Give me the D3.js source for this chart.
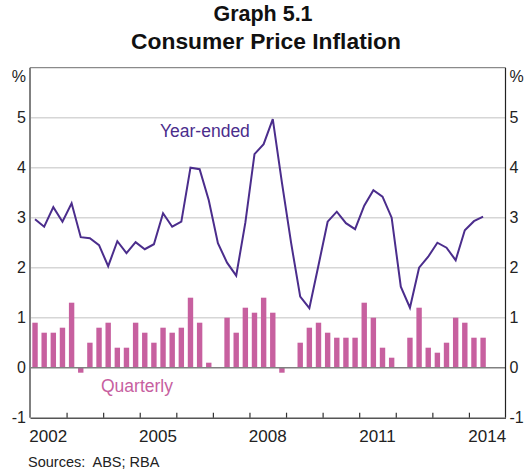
<!DOCTYPE html>
<html>
<head>
<meta charset="utf-8">
<script src="https://cdn.jsdelivr.net/npm/d3@7"></script>
<style>
  body { margin: 0; background: #fff; }
  text { font-family: "Liberation Sans", Arial, sans-serif; }
</style>
</head>
<body>
<svg id="chart"></svg>
<script>
// quarterly CPI, 2002 Q1 to 2014 Q2
const startYear = 2002;
const yearEnded = [
  2.97, 2.82, 3.21, 2.92,
  3.29, 2.61, 2.59, 2.45,
  2.03, 2.53, 2.29, 2.51,
  2.37, 2.47, 3.09, 2.82,
  2.92, 4.0, 3.97, 3.35,
  2.49, 2.1, 1.84, 2.9,
  4.27, 4.47, 4.97, 3.7,
  2.5, 1.42, 1.19, 2.05,
  2.92, 3.12, 2.89, 2.77,
  3.24, 3.55, 3.42, 3.0,
  1.62, 1.2, 2.0, 2.22,
  2.5, 2.4, 2.15, 2.75,
  2.93, 3.02
];
const quarterly = [
  0.9, 0.7, 0.7, 0.8,
  1.3, -0.1, 0.5, 0.8,
  0.9, 0.4, 0.4, 0.9,
  0.7, 0.5, 0.8, 0.7,
  0.8, 1.4, 0.9, 0.1,
  0.0, 1.0, 0.7, 1.2,
  1.1, 1.4, 1.1, -0.1,
  0.0, 0.5, 0.8, 0.9,
  0.7, 0.6, 0.6, 0.6,
  1.3, 1.0, 0.4, 0.2,
  0.0, 0.6, 1.2, 0.4,
  0.3, 0.5, 1.0, 0.9,
  0.6, 0.6
];
const yTicks = [-1, 0, 1, 2, 3, 4, 5];
const yearLabels = [2002, 2005, 2008, 2011, 2014];

const dimensions = { width: 532, height: 469 };
const plot = { left: 30, right: 505.5, top: 67.7, bottom: 417.7 };
const purple = '#4b2d8c';
const pink = '#c7609f';

const svg = d3.select('#chart').attr('width', dimensions.width).attr('height', dimensions.height);

const x = d3.scaleLinear().domain([startYear, 2015]).range([plot.left, plot.right]);
const y = d3.scaleLinear().domain([-1, 6]).range([plot.bottom, plot.top]);

// position of quarter i (slightly right of the quarter centre, like the original)
const qx = i => x(startYear + (i + 0.55) / 4);

// gridlines
svg.append('g').selectAll('line')
  .data(yTicks.filter(d => d > 0))
  .join('line')
  .attr('x1', plot.left).attr('x2', plot.right)
  .attr('y1', d => y(d)).attr('y2', d => y(d))
  .attr('stroke', '#d6d6d6').attr('stroke-width', 1.5);

// bars
const barW = 5.4;
svg.append('g').selectAll('rect')
  .data(quarterly)
  .join('rect')
  .attr('x', (d, i) => qx(i) - barW / 2)
  .attr('y', d => y(Math.max(0, d)))
  .attr('width', barW)
  .attr('height', d => Math.abs(y(d) - y(0)))
  .attr('fill', pink);

// zero line
svg.append('line')
  .attr('x1', plot.left).attr('x2', plot.right)
  .attr('y1', y(0)).attr('y2', y(0))
  .attr('stroke', '#808080').attr('stroke-width', 1.5);

// year-ended line
const line = d3.line().x((d, i) => qx(i)).y(d => y(d));
svg.append('path')
  .datum(yearEnded)
  .attr('d', line)
  .attr('fill', 'none')
  .attr('stroke', purple)
  .attr('stroke-width', 2)
  .attr('stroke-linejoin', 'miter');

// frame
svg.append('line').attr('x1', plot.left).attr('x2', plot.right)
  .attr('y1', plot.top).attr('y2', plot.top).attr('stroke', '#8a8a8a').attr('stroke-width', 1.2);
svg.append('line').attr('x1', plot.left).attr('x2', plot.left)
  .attr('y1', plot.top).attr('y2', plot.bottom).attr('stroke', '#808080').attr('stroke-width', 2);
svg.append('line').attr('x1', plot.right).attr('x2', plot.right)
  .attr('y1', plot.top).attr('y2', plot.bottom).attr('stroke', '#222').attr('stroke-width', 1.2);

// x axis with ticks pointing up into the plot
const xAxis = d3.axisBottom(x)
  .tickValues(d3.range(startYear + 1, 2015))
  .tickSizeInner(-5).tickSizeOuter(0).tickFormat('');
const gx = svg.append('g').attr('transform', `translate(0,${plot.bottom})`).call(xAxis);
gx.select('.domain').attr('stroke', '#555').attr('stroke-width', 1.5);
gx.selectAll('.tick line').attr('stroke', '#333').attr('stroke-width', 1.2);

svg.append('g').selectAll('text')
  .data(yearLabels)
  .join('text')
  .attr('x', d => x(d + 0.5))
  .attr('y', 441.5)
  .attr('text-anchor', 'middle')
  .attr('font-size', 17)
  .attr('fill', '#222')
  .text(d => d);

// y tick labels both sides
const yLab = svg.append('g').attr('font-size', 16).attr('fill', '#222');
yLab.selectAll('.l').data(yTicks).join('text').attr('class', 'l')
  .attr('x', plot.left - 4).attr('y', d => y(d)).attr('dy', '0.36em')
  .attr('text-anchor', 'end').text(d => d);
yLab.selectAll('.r').data(yTicks).join('text').attr('class', 'r')
  .attr('x', plot.right + 4).attr('y', d => y(d)).attr('dy', '0.36em')
  .attr('text-anchor', 'start').text(d => d);
yLab.append('text').attr('x', plot.left - 4).attr('y', 82).attr('text-anchor', 'end').text('%');
yLab.append('text').attr('x', plot.right + 4).attr('y', 82).attr('text-anchor', 'start').text('%');

// series labels
svg.append('text').attr('x', 160).attr('y', 137).attr('font-size', 17.5)
  .attr('fill', purple).text('Year-ended');
svg.append('text').attr('x', 101).attr('y', 392).attr('font-size', 17.5)
  .attr('fill', pink).text('Quarterly');

// titles
svg.append('text').attr('x', 263).attr('y', 21).attr('text-anchor', 'middle')
  .attr('font-size', 21.5).attr('font-weight', 'bold').attr('fill', '#111').text('Graph 5.1');
svg.append('text').attr('x', 266).attr('y', 48.5).attr('text-anchor', 'middle')
  .attr('font-size', 22.8).attr('font-weight', 'bold').attr('fill', '#111').text('Consumer Price Inflation');

// source
svg.append('text').attr('x', 28).attr('y', 466.5).attr('font-size', 14.5)
  .attr('fill', '#222').attr('xml:space', 'preserve').text('Sources:  ABS; RBA');
</script>
</body>
</html>
